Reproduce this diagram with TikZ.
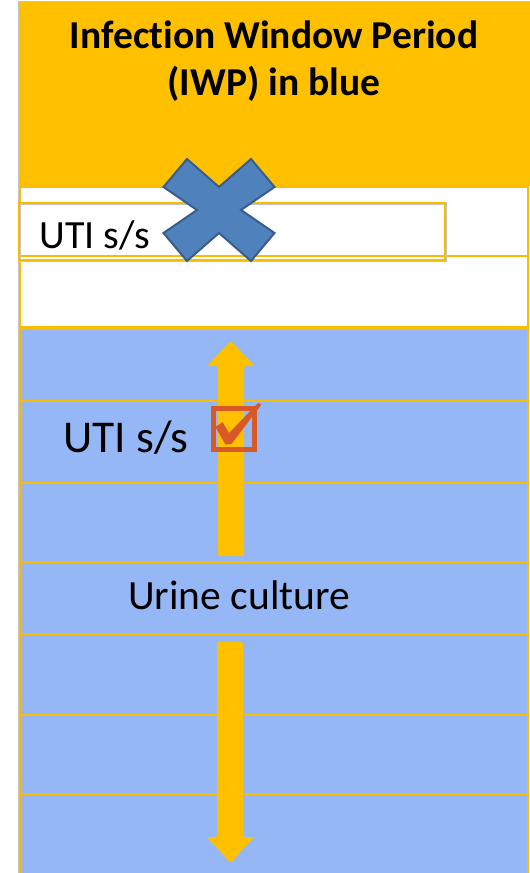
\documentclass[tikz,border=0pt]{standalone}
\usepackage{fontspec}
\setmainfont{Carlito}[Ligatures=NoCommon]
\definecolor{hdr}{RGB}{255,192,0}
\definecolor{rowline}{RGB}{250,188,0}
\definecolor{iwp}{RGB}{149,183,246}
\definecolor{xfill}{RGB}{79,129,189}
\definecolor{xedge}{RGB}{56,93,138}
\definecolor{tick}{RGB}{216,88,38}
\definecolor{edgegray}{RGB}{196,196,196}
\begin{document}
\begin{tikzpicture}[x=1pt,y=-1pt,
  row/.style={draw=rowline, line width=2.5pt},
  title/.style={inner sep=0pt, anchor=base, font=\fontsize{39.5}{46}\selectfont\bfseries},
  label/.style={inner sep=0pt, anchor=base west},
  blockarrow/.style={fill=hdr, rounded corners=2pt}]
\useasboundingbox (0,0) rectangle (530,873);
\fill[white] (0,0) rectangle (530,873);

% outer frame line on the left and top
\draw[edgegray, line width=1pt] (18,873) -- (18,1) -- (530,1);

% header band
\fill[hdr] (19,2) rectangle (530,186);
\node[title] (hdrA) at (274,48) {Infection Window Period};
\node[title] (hdrB) at (274,95) {(IWP) in blue};

% white rows before the window
\foreach \a/\b in {187/256, 256/327}
  \draw[row, fill=white] (20,\a) rectangle (528,\b);

% blue rows of the infection window period
\foreach \a/\b in {329/401, 401/483, 483/562, 562/634, 634/715, 715/794, 794/876}
  \draw[row, fill=iwp] (20,\a) rectangle (528,\b);

% crossed-out symptom box
\draw[edgegray, line width=3pt] (19,203) rectangle (445,260);
\draw[rowline, line width=1.5pt] (19,203) rectangle (445,260);
\node[label, font=\fontsize{40}{48}\selectfont] (utiTop) at (39.5,248) {UTI s/s};

% blue X mark
\filldraw[fill=xfill, draw=xedge, line width=2pt, line join=miter]
  (219,210) ++(-32,-51) -- ++(32,28) -- ++(32,-28) -- ++(23.5,28)
  -- ++(-33.5,23) -- ++(33.5,23) -- ++(-23.5,28) -- ++(-32,-28)
  -- ++(-32,28) -- ++(-23.5,-28) -- ++(33.5,-23) -- ++(-33.5,-23) -- cycle;

% upward block arrow
\fill[blockarrow] (218,556) -- (218,366) -- (207,366) -- (231,341)
  -- (255,366) -- (244,366) -- (244,556) -- cycle;

% downward block arrow
\fill[blockarrow] (217,642) -- (217,837) -- (207,837) -- (230.5,863)
  -- (254,837) -- (243,837) -- (243,642) -- cycle;

% symptoms inside the window, ticked
\node[label, font=\fontsize{45.5}{54}\selectfont] (utiIWP) at (63,452) {UTI s/s};
\draw[tick, line width=5pt] (213.5,408.5) rectangle (254,449.5);
\fill[tick] (215.5,427) -- (222.5,422) -- (229,433) -- (258,403) -- (261.5,404.5)
  -- (231.5,444) -- (225.5,444.5) -- cycle;

% culture label
\node[label, font=\fontsize{41.5}{50}\selectfont] (urine) at (128,609) {Urine culture};
\end{tikzpicture}
\end{document}
